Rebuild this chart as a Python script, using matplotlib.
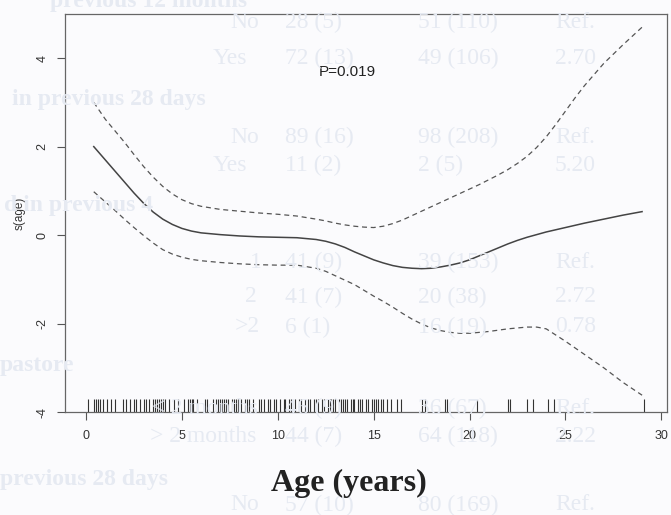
import numpy as np
import matplotlib.pyplot as plt

# smooth term s(age) from the GAM, with pointwise confidence band
age_grid = [0.4, 1, 1.5, 2, 2.5, 3, 3.5, 4, 4.5, 5, 5.5, 6, 7, 8, 9, 10, 11,
            12, 12.5, 13, 13.5, 14, 14.5, 15, 15.5, 16, 16.5, 17, 17.5, 18,
            18.5, 19, 19.5, 20, 20.5, 21, 21.5, 22, 22.5, 23, 23.5, 24, 24.5,
            25, 25.5, 26, 27, 28, 29]
fit = [2.0, 1.7, 1.45, 1.2, 0.95, 0.72, 0.52, 0.36, 0.24, 0.15, 0.09, 0.05,
       0.01, -0.02, -0.04, -0.05, -0.06, -0.1, -0.14, -0.2, -0.28, -0.38,
       -0.47, -0.56, -0.63, -0.69, -0.73, -0.75, -0.76, -0.75, -0.72, -0.68,
       -0.63, -0.56, -0.47, -0.38, -0.29, -0.2, -0.12, -0.05, 0.01, 0.07,
       0.12, 0.17, 0.22, 0.27, 0.36, 0.45, 0.53]
upper = [3.0, 2.62, 2.36, 2.1, 1.82, 1.55, 1.31, 1.1, 0.93, 0.8, 0.71, 0.65,
         0.58, 0.54, 0.5, 0.47, 0.43, 0.36, 0.32, 0.27, 0.23, 0.2, 0.18, 0.17,
         0.2, 0.26, 0.34, 0.44, 0.54, 0.64, 0.74, 0.84, 0.94, 1.04, 1.14, 1.25,
         1.36, 1.48, 1.62, 1.78, 1.98, 2.22, 2.5, 2.8, 3.1, 3.38, 3.88, 4.3,
         4.7]
lower = [0.98, 0.75, 0.56, 0.36, 0.17, -0.01, -0.18, -0.33, -0.43, -0.5,
         -0.55, -0.58, -0.62, -0.65, -0.67, -0.68, -0.68, -0.75, -0.82, -0.92,
         -1.02, -1.12, -1.25, -1.38, -1.5, -1.63, -1.77, -1.9, -2.01, -2.1,
         -2.16, -2.2, -2.22, -2.22, -2.2, -2.18, -2.15, -2.12, -2.1, -2.08,
         -2.08, -2.12, -2.26, -2.4, -2.55, -2.7, -3.0, -3.33, -3.62]

# observed ages (rug)
ages = [0.1, 0.4, 0.5, 0.6, 0.7, 0.9, 1.1, 1.3, 1.5, 1.9, 2.1, 2.3, 2.5, 2.6,
        2.8, 3.0, 3.1, 3.3, 3.5, 3.6, 3.7, 3.8, 3.9, 4.0, 4.1, 4.3, 4.6, 4.8,
        5.1, 5.3, 5.4, 5.5, 5.6, 5.8, 6.2, 6.3, 6.6, 6.8, 6.9, 7.0, 7.1, 7.2,
        7.3, 7.4, 7.6, 7.7, 7.8, 7.9, 8.1, 8.3, 8.4, 8.5, 8.7, 9.0, 9.1, 9.3,
        9.5, 9.6, 9.8, 9.9, 10.1, 10.3, 10.4, 10.6, 10.7, 10.9, 11.1, 11.2,
        11.4, 11.6, 11.7, 11.9, 12.0, 12.1, 12.3, 12.4, 12.6, 12.7, 12.8,
        12.9, 13.0, 13.2, 13.3, 13.4, 13.5, 13.6, 13.8, 13.9, 14.0, 14.2,
        14.3, 14.4, 14.6, 14.7, 14.9, 15.0, 15.1, 15.2, 15.4, 15.5, 15.7,
        15.9, 16.2, 16.4, 17.5, 17.7, 18.7, 18.8, 20.4, 22.0, 22.1, 23.0,
        23.3, 24.1, 24.4, 29.1]

x_ticks = [0, 5, 10, 15, 20, 25, 30]
y_ticks = [-4, -2, 0, 2, 4]
p_label = "P=0.019"

# table printed on the other side of the page, showing through
# (left edge of first cell in pixels, row centre in pixels, cells)
ghost_rows = [
    (230, 22, "No", "28 (5)", "51 (110)", "Ref."),
    (213, 58, "Yes", "72 (13)", "49 (106)", "2.70"),
    (230, 137, "No", "89 (16)", "98 (208)", "Ref."),
    (213, 165, "Yes", "11 (2)", "2 (5)", "5.20"),
    (250, 262, "1", "41 (9)", "39 (153)", "Ref."),
    (245, 297, "2", "41 (7)", "20 (38)", "2.72"),
    (235, 327, ">2", "6 (1)", "16 (19)", "0.78"),
    (152, 408, "\u2264 2 months", "46 (9)", "36 (67)", "Ref."),
    (150, 436, "> 2 months", "44 (7)", "64 (118)", "2.22"),
    (230, 505, "No", "57 (10)", "80 (169)", "Ref."),
]
ghost_heads = [
    (50, 2, "previous 12 months"),
    (12, 100, "in previous 28 days"),
    (4, 205, "d in previous 4"),
    (0, 365, "pastore"),
    (0, 480, "previous 28 days"),
]

W, H = 671, 515
fig = plt.figure(figsize=(W / 100, H / 100), dpi=100)
fig.patch.set_facecolor("#fbfbfd")

ghost = "#e6eaf2"
gkw = dict(family="Liberation Serif", fontsize=17, color=ghost, va="center", zorder=0)
for x0, yy, a, b, c, d in ghost_rows:
    fy = 1 - yy / H
    fig.text(x0 / W, fy, a, **gkw)
    fig.text(285 / W, fy, b, **gkw)
    fig.text(418 / W, fy, c, **gkw)
    fig.text(555 / W, fy, d, **gkw)
for x0, yy, t in ghost_heads:
    fig.text(x0 / W, 1 - yy / H, t, fontweight="bold", **gkw)

ax = fig.add_axes([65 / W, 0.2, 602 / W, 0.773])
ax.patch.set_alpha(0)

ax.plot(age_grid, fit, color="#444444", lw=1.1)
ax.plot(age_grid, upper, color="#555555", lw=0.9, ls=(0, (4, 3)))
ax.plot(age_grid, lower, color="#555555", lw=0.9, ls=(0, (4, 3)))
ax.vlines(ages, -4, -3.7, color="#333333", lw=0.8)

ax.text(13.6, 3.68, p_label, family="Liberation Sans", fontsize=11,
        color="#222222", ha="center", va="center")

ax.set_xlim(-1.1, 30.3)
ax.set_ylim(-4, 5)
ax.set_xticks(x_ticks)
ax.set_yticks(y_ticks)
ax.set_yticklabels([str(v) for v in y_ticks], rotation=90, va="center")
for lab in ax.get_xticklabels() + ax.get_yticklabels():
    lab.set_family("Liberation Sans")
    lab.set_fontsize(9)
    lab.set_color("#333333")
ax.tick_params(axis="x", length=6, width=0.8, color="#555555", pad=7)
ax.tick_params(axis="y", length=6, width=0.8, color="#555555", pad=6)
for s in ax.spines.values():
    s.set_color("#666666")
    s.set_linewidth(0.9)

ax.set_ylabel("s(age)", family="Liberation Sans", fontsize=8.5, color="#333333",
              labelpad=8)
fig.text(349 / W, 1 - 483 / H, "Age (years)", family="Liberation Serif",
         fontsize=23, fontweight="bold", color="#222222", ha="center", va="center")

fig.savefig("out.png", dpi=100)
